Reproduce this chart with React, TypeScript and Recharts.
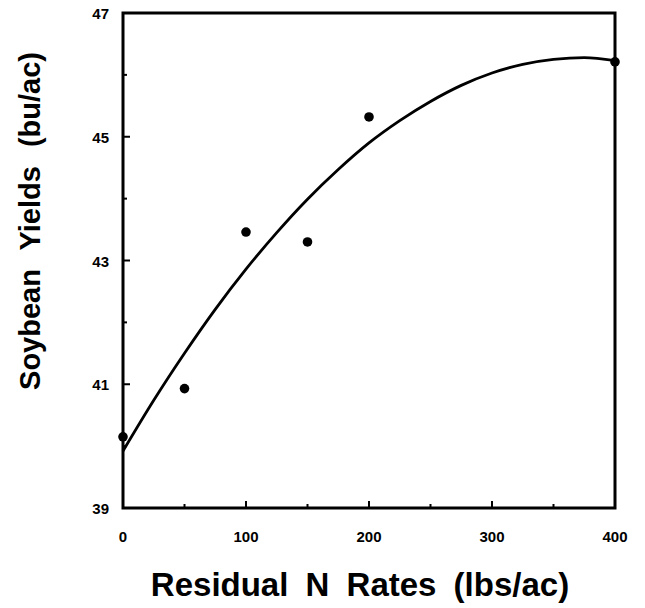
import {
  ComposedChart, Line, Scatter, XAxis, YAxis, ReferenceArea,
} from 'recharts';

// observed yields
const RATES = [0, 50, 100, 150, 200, 400];
const YIELDS = [40.15, 40.93, 43.46, 43.3, 45.32, 46.21];

// fitted curve
const CURVE_X = [0, 25, 50, 75, 100, 125, 150, 175, 200, 225, 250, 275, 300, 325, 350, 375, 400];
const CURVE_Y = [39.92, 40.74, 41.5, 42.21, 42.86, 43.45, 43.99, 44.47, 44.9, 45.26, 45.57, 45.83, 46.03, 46.17, 46.25, 46.28, 46.23];

const X_TICKS = [0, 50, 100, 150, 200, 250, 300, 350, 400];
const Y_TICKS = [39, 40, 41, 42, 43, 44, 45, 46, 47];

const FONT = '"Liberation Sans", Arial, sans-serif';

const points = RATES.map((r, i) => ({ x: r, y: YIELDS[i] }));
const curve = CURVE_X.map((x, i) => ({ x, fit: CURVE_Y[i] }));

function XTick({ x, y, payload }: any) {
  const major = payload.value % 100 === 0;
  return (
    <g>
      <line x1={x} x2={x} y1={y} y2={y - (major ? 7 : 4)} stroke="#000" strokeWidth={2} />
      {major && (
        <text x={x} y={y + 34} textAnchor="middle" fontFamily={FONT} fontWeight="bold" fontSize={15} fill="#000">
          {payload.value}
        </text>
      )}
    </g>
  );
}

function YTick({ x, y, payload }: any) {
  const major = payload.value % 2 === 1;
  return (
    <g>
      <line x1={x} x2={x + (major ? 7 : 4)} y1={y} y2={y} stroke="#000" strokeWidth={2} />
      {major && (
        <text x={x - 14} y={y + 6} textAnchor="end" fontFamily={FONT} fontWeight="bold" fontSize={15} fill="#000">
          {payload.value}
        </text>
      )}
    </g>
  );
}

// y title sits a bit above the plot's middle, as in the scan
function YLabel() {
  const cx = 22;
  const cy = 221;
  return (
    <text x={cx} y={cy} transform={`rotate(-90 ${cx} ${cy})`} textAnchor="middle" dominantBaseline="central"
      fontFamily={FONT} fontWeight="bold" fontSize={29} fill="#000" wordSpacing={11}>
      Soybean Yields (bu/ac)
    </text>
  );
}

function XLabel({ viewBox }: any) {
  const cx = viewBox.x + viewBox.width / 2 - 9;
  return (
    <text x={cx} y={viewBox.y + 88} textAnchor="middle" fontFamily={FONT} fontWeight="bold" fontSize={33} fill="#000" wordSpacing={8}>
      Residual N Rates (lbs/ac)
    </text>
  );
}

export default function App() {
  return (
    <div style={{ marginTop: -8 }}>
      <ComposedChart width={637} height={608} margin={{ top: 13, right: 30, left: 0, bottom: 0 }}>
        <XAxis
          type="number" dataKey="x" domain={[0, 400]} ticks={X_TICKS}
          height={100} axisLine={false} tickLine={false} tickSize={0} tickMargin={0}
          tick={<XTick />} label={<XLabel />} interval={0}
        />
        <YAxis
          type="number" domain={[39, 47]} ticks={Y_TICKS}
          width={115} axisLine={false} tickLine={false} tickSize={0} tickMargin={0}
          tick={<YTick />} label={<YLabel />} interval={0}
        />
        <ReferenceArea x1={0} x2={400} y1={39} y2={47} fill="none" stroke="#000" strokeWidth={3} ifOverflow="visible" />
        <Line data={curve} dataKey="fit" type="monotone" stroke="#000" strokeWidth={2.8} dot={false} isAnimationActive={false} />
        <Scatter data={points} dataKey="y" fill="#000" shape={(p: any) => <circle cx={p.cx} cy={p.cy} r={4.8} fill="#000" />} isAnimationActive={false} />
      </ComposedChart>
    </div>
  );
}
